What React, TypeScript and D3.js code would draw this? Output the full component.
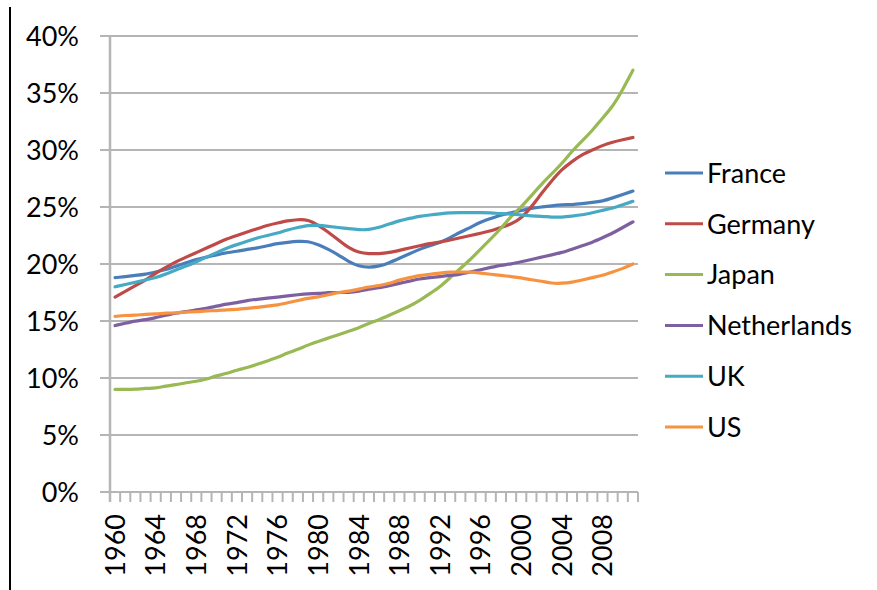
import React from 'react';
import * as d3 from 'd3';

// years on the category axis
const years = d3.range(1960, 2012);
const yTicks = [0, 5, 10, 15, 20, 25, 30, 35, 40];

const france = [18.8, 18.9, 19.0, 19.1, 19.3, 19.5, 19.8, 20.1, 20.4, 20.6, 20.8, 21.0, 21.1, 21.3, 21.4, 21.6, 21.8, 21.9, 22.0, 22.0, 21.7, 21.3, 20.8, 20.2, 19.8, 19.7, 19.8, 20.1, 20.5, 20.9, 21.3, 21.6, 21.9, 22.3, 22.8, 23.2, 23.7, 24.0, 24.3, 24.5, 24.7, 24.9, 25.0, 25.1, 25.2, 25.2, 25.3, 25.4, 25.5, 25.8, 26.1, 26.4];
const germany = [17.1, 17.6, 18.1, 18.6, 19.2, 19.7, 20.2, 20.6, 21.0, 21.4, 21.8, 22.2, 22.5, 22.8, 23.1, 23.4, 23.6, 23.8, 23.9, 23.9, 23.4, 22.8, 22.1, 21.4, 21.0, 20.9, 20.9, 21.0, 21.2, 21.4, 21.6, 21.8, 21.9, 22.1, 22.3, 22.5, 22.7, 22.9, 23.2, 23.5, 24.0, 25.0, 26.2, 27.3, 28.3, 29.0, 29.6, 30.0, 30.4, 30.7, 30.9, 31.1];
const japan = [9.0, 9.0, 9.0, 9.1, 9.1, 9.3, 9.4, 9.6, 9.7, 9.9, 10.2, 10.4, 10.7, 10.9, 11.2, 11.5, 11.8, 12.2, 12.5, 12.9, 13.2, 13.5, 13.8, 14.1, 14.4, 14.8, 15.1, 15.5, 15.9, 16.3, 16.8, 17.4, 18.0, 18.8, 19.6, 20.4, 21.3, 22.2, 23.1, 24.2, 25.0, 26.0, 27.0, 27.9, 28.8, 29.9, 30.8, 31.7, 32.8, 33.8, 35.3, 37.0];
const netherlands = [14.6, 14.8, 15.0, 15.1, 15.3, 15.5, 15.7, 15.8, 16.0, 16.1, 16.3, 16.5, 16.6, 16.8, 16.9, 17.0, 17.1, 17.2, 17.3, 17.4, 17.4, 17.5, 17.5, 17.5, 17.6, 17.8, 17.9, 18.1, 18.3, 18.5, 18.7, 18.8, 18.9, 19.0, 19.1, 19.3, 19.5, 19.7, 19.9, 20.0, 20.2, 20.4, 20.6, 20.8, 21.0, 21.3, 21.6, 21.9, 22.3, 22.7, 23.2, 23.7];
const uk = [18.0, 18.2, 18.4, 18.6, 18.8, 19.1, 19.5, 19.8, 20.2, 20.6, 21.0, 21.4, 21.7, 22.0, 22.3, 22.5, 22.7, 23.0, 23.2, 23.4, 23.4, 23.3, 23.2, 23.1, 23.0, 23.0, 23.2, 23.5, 23.8, 24.0, 24.2, 24.3, 24.4, 24.5, 24.5, 24.5, 24.5, 24.5, 24.4, 24.4, 24.3, 24.2, 24.2, 24.1, 24.1, 24.2, 24.3, 24.5, 24.7, 24.9, 25.2, 25.5];
const us = [15.4, 15.5, 15.5, 15.6, 15.6, 15.7, 15.7, 15.8, 15.8, 15.9, 15.9, 16.0, 16.0, 16.1, 16.2, 16.3, 16.4, 16.6, 16.8, 17.0, 17.1, 17.3, 17.5, 17.6, 17.8, 18.0, 18.1, 18.3, 18.6, 18.8, 19.0, 19.1, 19.2, 19.3, 19.3, 19.3, 19.2, 19.1, 19.0, 18.9, 18.8, 18.6, 18.5, 18.3, 18.3, 18.4, 18.6, 18.8, 19.0, 19.3, 19.6, 20.0];

const seriesNames = ['France', 'Germany', 'Japan', 'Netherlands', 'UK', 'US'];
const seriesValues = [france, germany, japan, netherlands, uk, us];
const colors = ['#4a7ebb', '#be4b48', '#98b954', '#7d60a0', '#46aac5', '#f69240'];

const W = 877;
const H = 590;
const FONT = 'Lato, "Open Sans", sans-serif';

export default function App() {
  const left = 110, right = 638, top = 36, bottom = 492;

  const x = d3.scaleBand<number>().domain(years).range([left, right]);
  const y = d3.scaleLinear().domain([0, 40]).range([bottom, top]);

  // smoothed lines like the spreadsheet's
  const line = d3.line<number>()
    .x((_, i) => x(years[i])! + x.bandwidth() / 2)
    .y(d => y(d))
    .curve(d3.curveBasis);

  const grid = '#b5b5b5';

  return (
    <svg width={W} height={H} style={{ position: 'absolute', left: 0, top: 0, background: '#fff' }}>
      {/* outer frame edge */}
      <line x1={10} x2={10} y1={7} y2={H} stroke="#000" strokeWidth={2} />

      {/* gridlines + y labels */}
      {yTicks.map(t => (
        <g key={t}>
          <line x1={left - 10} x2={right} y1={y(t)} y2={y(t)} stroke={grid} strokeWidth={2} />
          <text x={79} y={y(t)} dy="0.36em" textAnchor="end" fontFamily={FONT} fontSize={27} fill="#000">
            {t}%
          </text>
        </g>
      ))}

      {/* y axis */}
      <line x1={left} x2={left} y1={top} y2={bottom + 10} stroke={grid} strokeWidth={2.5} />

      {/* x ticks at category boundaries */}
      {years.map(yr => (
        <line key={yr} x1={x(yr)! + x.bandwidth()} x2={x(yr)! + x.bandwidth()} y1={bottom} y2={bottom + 10} stroke={grid} strokeWidth={2} />
      ))}

      {/* x labels every 4 years */}
      {years.filter(yr => (yr - 1960) % 4 === 0).map(yr => {
        const cx = x(yr)! + x.bandwidth() / 2;
        return (
          <text key={yr} transform={`translate(${cx},514) rotate(-90)`} dy="0.36em" textAnchor="end"
            fontFamily={FONT} fontSize={27} fill="#000">
            {yr}
          </text>
        );
      })}

      {/* series */}
      {seriesValues.map((vals, i) => (
        <path key={seriesNames[i]} d={line(vals) || ''} fill="none" stroke={colors[i]} strokeWidth={3.2} strokeLinecap="round" />
      ))}

      {/* legend */}
      {seriesNames.map((name, i) => {
        const ly = 173 + i * 50.8;
        return (
          <g key={name}>
            <line x1={665} x2={703} y1={ly} y2={ly} stroke={colors[i]} strokeWidth={3} />
            <text x={707} y={ly} dy="0.36em" fontFamily={FONT} fontSize={27} fill="#000">{name}</text>
          </g>
        );
      })}
    </svg>
  );
}
